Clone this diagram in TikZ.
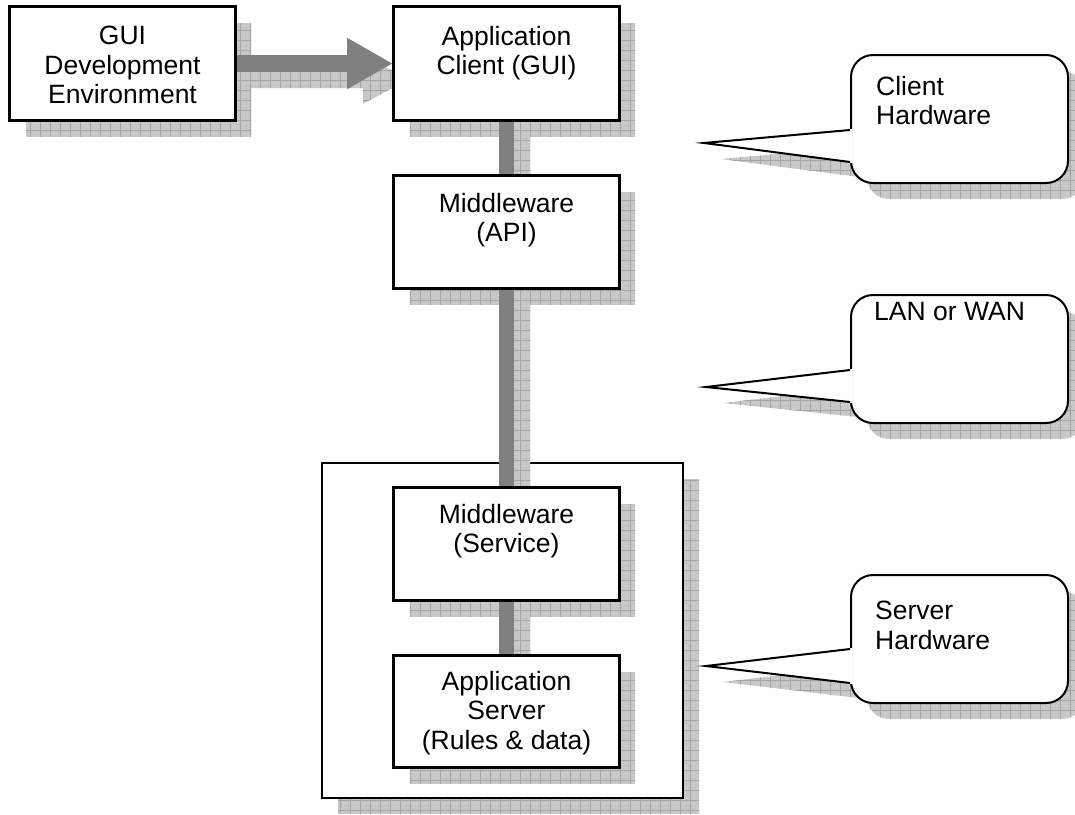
\documentclass[tikz,border=0pt]{standalone}
\usepackage{fontspec}
\setmainfont{Liberation Sans}
\usetikzlibrary{arrows.meta,calc}
\definecolor{shadowc}{HTML}{C8C8C8}
\definecolor{gridc}{HTML}{A4A4A4}
\definecolor{barc}{HTML}{808080}
\newcommand\gridshadow[1]{%
  \begin{scope}
    \clip #1;
    \fill[shadowc] (0,0) rectangle (1075,814);
    \draw[gridc,line width=0.6pt,step=10pt] (0,0) grid (1075,814);
  \end{scope}}
\begin{document}
\begin{tikzpicture}[x=1pt,y=-1pt,
  txt/.style={font=\fontsize{26.5}{29.5}\selectfont},
  boxnode/.style={draw=black,line width=2pt,fill=white,inner sep=0pt},
  stdbox/.style={boxnode,minimum width=225pt,minimum height=113pt},
  inlbl/.style={txt,inner sep=0pt,align=center,anchor=north},
  callbox/.style={draw=black,line width=2pt,fill=white,inner sep=0pt,
    rounded corners=22pt,minimum width=217pt,minimum height=128pt},
  calllbl/.style={txt,inner sep=0pt,align=left,anchor=north west},
  barline/.style={draw=barc,line width=15pt},
  tailline/.style={draw=black,line width=2pt,line join=miter}]
\useasboundingbox (0,0) rectangle (1075,814);
\fill[white] (0,0) rectangle (1075,814);

% outer server hardware box
\gridshadow{(338,479) rectangle (699,814)}
\node[boxnode,line width=2.2pt,minimum width=361pt,minimum height=335pt] (srv) at (502.5,630.5) {};

% node positions
\path (122.5,63.5) coordinate (cgui)
      (506.5,63.5) coordinate (cac)
      (506.5,232) coordinate (capi)
      (506.5,544) coordinate (csvc)
      (506.5,711.5) coordinate (cas);

% shadows
\gridshadow{([shift={(16,16)}]cgui) ++(-112.5,-56.5) rectangle ++(225,113)}
\gridshadow{([shift={(16,16)}]cac) ++(-112.5,-56.5) rectangle ++(225,113)}
\gridshadow{([shift={(16,16)}]capi) ++(-112.5,-56) rectangle ++(225,112)}
\gridshadow{([shift={(16,16)}]csvc) ++(-112.5,-56) rectangle ++(225,112)}
\gridshadow{([shift={(16,16)}]cas) ++(-112.5,-55.5) rectangle ++(225,111)}
% bar shadows
\gridshadow{(514,136) rectangle (530,192)}
\gridshadow{(514,304) rectangle (530,504)}
\gridshadow{(514,616) rectangle (530,672)}
% arrow shadow
\gridshadow{(251,71) -- (363,71) -- (363,56) -- (409,79) -- (363,104) -- (363,88) -- (251,88) -- cycle}
% callout shadows
\gridshadow{[rounded corners=22pt] (867,71) rectangle (1084,199)}
\gridshadow{(721,159) -- (867,146) -- (867,178) -- cycle}
\gridshadow{[rounded corners=22pt] (867,311) rectangle (1084,439)}
\gridshadow{(723,403) -- (867,386) -- (867,418) -- cycle}
\gridshadow{[rounded corners=22pt] (867,591) rectangle (1084,719)}
\gridshadow{(723,682) -- (867,665) -- (867,699) -- cycle}

% boxes
\node[stdbox] (gui) at (cgui) {};
\node[stdbox] (ac) at (cac) {};
\node[stdbox,minimum height=112pt] (api) at (capi) {};
\node[stdbox,minimum height=112pt] (svc) at (csvc) {};
\node[stdbox,minimum height=111pt] (as) at (cas) {};

% connectors
\path[barline] (ac.south) -- (api.north);
\path[barline] (api.south) -- (svc.north);
\path[barline] (svc.south) -- (as.north);
\draw[barc,line width=17pt,-{Triangle[length=46pt,width=48pt]}] (gui.east) -- (ac.west);

% box borders on top
\foreach \n in {gui,ac,api,svc,as}{
  \draw[line width=2pt] (\n.north west) rectangle (\n.south east);}

% box texts
\node[inlbl] (tgui) at ([yshift=-20pt]gui.north) {GUI\\Development\\Environment};
\node[inlbl] (tac) at ([yshift=-20pt]ac.north) {Application\\Client (GUI)};
\node[inlbl] (tapi) at ([yshift=-18pt]api.north) {Middleware\\(API)};
\node[inlbl] (tsvc) at ([yshift=-17pt]svc.north) {Middleware\\(Service)};
\node[inlbl] (tas) at ([yshift=-16pt]as.north) {Application\\Server\\(Rules \& data)};

% callouts
\node[callbox] (cl1) at (959.5,119) {};
\fill[white] ($(cl1.west)+(-146,24)$) -- ($(cl1.west)+(2.5,10)$) -- ($(cl1.west)+(2.5,44)$) -- cycle;
\draw[tailline] ($(cl1.west)+(0,11)$) -- ($(cl1.west)+(-146,24)$) -- ($(cl1.west)+(0,43)$);
\node[calllbl] (tcl1) at ([shift={(26,22)}]cl1.north west) {Client\\Hardware};

\node[callbox] (cl2) at (959.5,359) {};
\fill[white] ($(cl2.west)+(-144,28)$) -- ($(cl2.west)+(2.5,10)$) -- ($(cl2.west)+(2.5,44)$) -- cycle;
\draw[tailline] ($(cl2.west)+(0,11)$) -- ($(cl2.west)+(-144,28)$) -- ($(cl2.west)+(0,43)$);
\node[calllbl] (tcl2) at ([shift={(24,8)}]cl2.north west) {LAN or WAN};

\node[callbox] (cl3) at (959.5,639) {};
\fill[white] ($(cl3.west)+(-144,27)$) -- ($(cl3.west)+(2.5,9)$) -- ($(cl3.west)+(2.5,45)$) -- cycle;
\draw[tailline] ($(cl3.west)+(0,10)$) -- ($(cl3.west)+(-144,27)$) -- ($(cl3.west)+(0,44)$);
\node[calllbl] (tcl3) at ([shift={(25,27)}]cl3.north west) {Server\\Hardware};
\end{tikzpicture}
\end{document}
